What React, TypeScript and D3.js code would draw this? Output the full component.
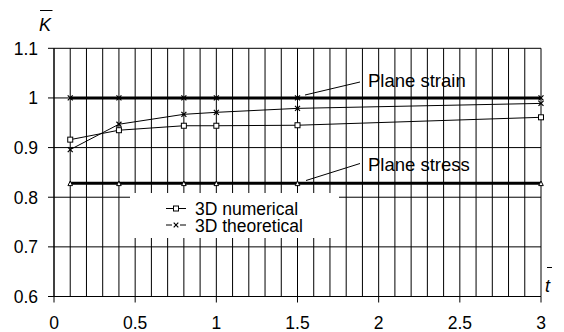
import React from "react";
import * as d3 from "d3";

const tValues = [0.1, 0.4, 0.8, 1.0, 1.5, 3.0];
const numerical = [0.916, 0.935, 0.944, 0.944, 0.945, 0.961];
const theoretical = [0.896, 0.947, 0.967, 0.971, 0.979, 0.989];
const planeStrain = [1.0, 1.0, 1.0, 1.0, 1.0, 1.0];
const planeStress = [0.828, 0.828, 0.828, 0.828, 0.828, 0.828];
const xTicks = [0, 0.5, 1, 1.5, 2, 2.5, 3];
const xTickLabels = ["0", "0.5", "1", "1.5", "2", "2.5", "3"];
const yTicks = [0.6, 0.7, 0.8, 0.9, 1.0, 1.1];
const yTickLabels = ["0.6", "0.7", "0.8", "0.9", "1", "1.1"];
const xGrid = d3.range(1, 31).map((i) => i / 10);
const legendLabels = ["3D numerical", "3D theoretical"];
const annotations = ["Plane strain", "Plane stress"];

const FONT = "'Liberation Sans', Arial, sans-serif";

export default function App() {
  const x = d3.scaleLinear().domain([0, 3]).range([54, 541]);
  const y = d3.scaleLinear().domain([0.6, 1.1]).range([296.5, 48.3]);
  const line = d3
    .line<[number, number]>()
    .x((d) => x(d[0]))
    .y((d) => y(d[1]));
  const pts = (vals: number[]) => tValues.map((t, i) => [t, vals[i]] as [number, number]);

  const xMark = (cx: number, cy: number, s: number, key: string) => (
    <path
      key={key}
      d={`M${cx - s},${cy - s}L${cx + s},${cy + s}M${cx - s},${cy + s}L${cx + s},${cy - s}`}
      stroke="#000"
      strokeWidth={1.2}
      fill="none"
    />
  );
  const sqMark = (cx: number, cy: number, s: number, key: string) => (
    <rect key={key} x={cx - s} y={cy - s} width={2 * s} height={2 * s} fill="#fff" stroke="#000" strokeWidth={1} />
  );
  const triMark = (cx: number, cy: number, s: number, key: string) => (
    <path
      key={key}
      d={`M${cx - s},${cy + s}L${cx},${cy - s}L${cx + s},${cy + s}Z`}
      fill="#fff"
      stroke="#000"
      strokeWidth={1}
    />
  );

  const legendBox = { x0: 130, y0: 193, x1: 339, y1: 238 };

  return (
    <svg
      width={564}
      height={332}
      style={{ position: "absolute", left: 0, top: 0, background: "#fff" }}
      fontFamily={FONT}
    >
      <rect x={0} y={0} width={564} height={332} fill="#fff" />
      {/* vertical grid */}
      {xGrid.map((t) => (
        <line key={"vg" + t} x1={x(t)} x2={x(t)} y1={y(1.1)} y2={y(0.6)} stroke="#000" strokeWidth={1} />
      ))}
      {/* horizontal grid */}
      {yTicks.map((v) => (
        <line key={"hg" + v} x1={x(0)} x2={x(3)} y1={y(v)} y2={y(v)} stroke="#000" strokeWidth={1} />
      ))}
      {/* legend background */}
      <rect
        x={legendBox.x0}
        y={legendBox.y0}
        width={legendBox.x1 - legendBox.x0}
        height={legendBox.y1 - legendBox.y0}
        fill="#fff"
      />
      {/* axes */}
      <line x1={x(0)} x2={x(0)} y1={y(1.1)} y2={y(0.6)} stroke="#000" strokeWidth={1.5} />
      <line x1={x(0)} x2={x(3)} y1={y(0.6)} y2={y(0.6)} stroke="#000" strokeWidth={1.2} />
      {yTicks.map((v, i) => (
        <g key={"yt" + v}>
          <line x1={x(0) - 6} x2={x(0)} y1={y(v)} y2={y(v)} stroke="#000" strokeWidth={1} />
          <text x={38} y={y(v)} dy="0.36em" textAnchor="end" fontSize={17.5}>
            {yTickLabels[i]}
          </text>
        </g>
      ))}
      {xTicks.map((t, i) => (
        <g key={"xt" + t}>
          <line x1={x(t)} x2={x(t)} y1={y(0.6)} y2={y(0.6) + 6} stroke="#000" strokeWidth={1} />
          <text x={x(t)} y={329} textAnchor="middle" fontSize={17.5}>
            {xTickLabels[i]}
          </text>
        </g>
      ))}
      {/* axis titles */}
      <text x={39} y={31} fontSize={18} fontStyle="italic">K</text>
      <line x1={40} x2={52.5} y1={10.5} y2={10.5} stroke="#000" strokeWidth={1} />
      <text x={545} y={291.5} fontSize={18} fontStyle="italic">t</text>
      <line x1={547} x2={552} y1={267.5} y2={267.5} stroke="#000" strokeWidth={1} />

      {/* plane strain / plane stress thick lines */}
      <path d={line(pts(planeStrain)) || ""} stroke="#000" strokeWidth={3} fill="none" />
      <path d={line(pts(planeStress)) || ""} stroke="#000" strokeWidth={3} fill="none" />
      {pts(planeStrain).map((d, i) => xMark(x(d[0]), y(d[1]), 2.5, "ps" + i))}
      {pts(planeStress).map((d, i) => triMark(x(d[0]), y(d[1]), 2.3, "pt" + i))}

      {/* 3D series */}
      <path d={line(pts(numerical)) || ""} stroke="#000" strokeWidth={1} fill="none" />
      <path d={line(pts(theoretical)) || ""} stroke="#000" strokeWidth={1} fill="none" />
      {pts(theoretical).map((d, i) => xMark(x(d[0]), y(d[1]), 2.5, "th" + i))}
      {pts(numerical).map((d, i) => sqMark(x(d[0]), y(d[1]), 2.5, "nu" + i))}

      {/* annotations */}
      <line x1={305} y1={95} x2={360} y2={82} stroke="#000" strokeWidth={1} />
      <text x={368} y={86.7} fontSize={18.5}>{annotations[0]}</text>
      <line x1={306} y1={180.5} x2={360} y2={163.5} stroke="#000" strokeWidth={1} />
      <text x={368} y={170.7} fontSize={18.5}>{annotations[1]}</text>

      {/* legend */}
      <line x1={166} x2={186} y1={208.5} y2={208.5} stroke="#000" strokeWidth={1} />
      {sqMark(176, 208.5, 2.5, "lg0")}
      <text x={195} y={215} fontSize={17.5}>{legendLabels[0]}</text>
      <line x1={166} x2={172} y1={225} y2={225} stroke="#000" strokeWidth={1} />
      <line x1={180} x2={186} y1={225} y2={225} stroke="#000" strokeWidth={1} />
      {xMark(176, 225, 2.3, "lg1")}
      <text x={195} y={231.5} fontSize={17.5}>{legendLabels[1]}</text>
    </svg>
  );
}
